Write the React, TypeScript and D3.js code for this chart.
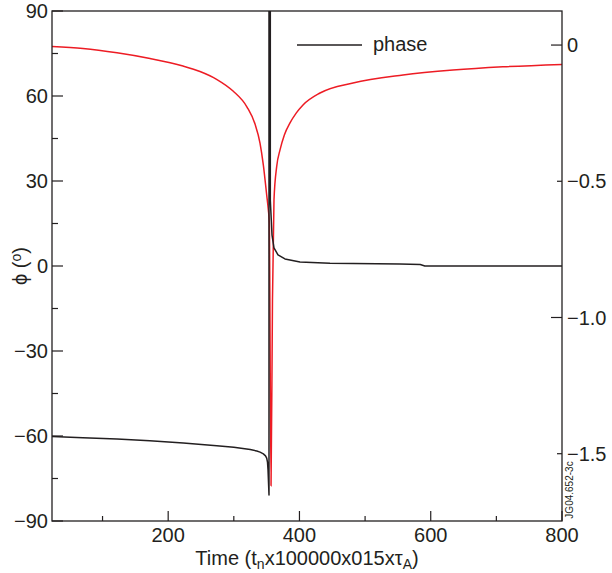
import React from "react";
import * as d3 from "d3";

// ---- data ----
const phaseTime = [23, 70, 122, 172, 223, 274, 300, 325, 335, 340, 345, 348.3, 350.1, 351.3, 352.1, 353.6, 353.6, 355.6, 355.6, 358.2, 361.2, 367.3, 377.9, 400.8, 446.5, 553, 584, 591, 800];
const phaseDeg = [-60.2, -60.6, -61.1, -61.7, -62.5, -63.4, -64.0, -64.8, -65.3, -65.7, -66.3, -67.0, -67.8, -69.2, -71.9, -80.8, 100, 100, 23.3, 10.9, 6.4, 3.9, 2.5, 1.4, 0.95, 0.7, 0.5, 0, 0];

const redTime = [23, 70.2, 122, 172.3, 222.6, 248.5, 274.4, 298.8, 320.1, 332.3, 339.9, 345, 350.1, 352.6, 354.1, 356.7, 358.9, 361.2, 365.3, 370.4, 377, 385.6, 395, 405.4, 431.3, 481.6, 557.8, 633.9, 710, 800];
const redValue = [-0.0055, -0.0128, -0.0286, -0.0495, -0.0771, -0.0972, -0.1266, -0.1688, -0.2275, -0.2899, -0.3596, -0.4404, -0.5505, -0.6055, -0.6532, -1.618, -0.936, -0.569, -0.446, -0.385, -0.33, -0.286, -0.25, -0.22, -0.176, -0.139, -0.11, -0.092, -0.08, -0.071];

const xMajorTicks = [200, 400, 600, 800];
const xMinorTicks = [100, 300, 500, 700];
const yLeftMajor = [-90, -60, -30, 0, 30, 60, 90];
const yLeftMinor = [-75, -45, -15, 15, 45, 75];
const yRightMajor = [0, -1.0];
const yRightMinor = [-0.5, -1.5];
const yRightLabels = [
  { v: 0, t: "0" },
  { v: -0.5, t: "\u22120.5" },
  { v: -1.0, t: "\u22121.0" },
  { v: -1.5, t: "\u22121.5" },
];

const L = 52, R = 562, T = 11, B = 521;
const INK = "#231f20";
const RED = "#ed1c24";
const FONT = "'Liberation Sans', Arial, sans-serif";

export default function App() {
  const x = d3.scaleLinear().domain([23, 800]).range([L, R]);
  const yL = d3.scaleLinear().domain([-90, 90]).range([B, T]);
  const yR = d3.scaleLinear().domain([-1.747, 0.125]).range([B, T]);

  const phaseLine = d3
    .line<number>()
    .x((_, i) => x(phaseTime[i]))
    .y((d) => yL(d))
    .curve(d3.curveLinear);
  const redLine = d3
    .line<number>()
    .x((_, i) => x(redTime[i]))
    .y((d) => yR(d))
    .curve(d3.curveMonotoneX);

  const fmt = (v: number) => (v < 0 ? "\u2212" + Math.abs(v) : String(v));

  return (
    <svg
      width={612}
      height={573}
      style={{ position: "absolute", left: 0, top: 0, background: "#fff" }}
      fontFamily={FONT}
    >
      <defs>
        <clipPath id="plotclip">
          <rect x={L} y={T} width={R - L} height={B - T} />
        </clipPath>
      </defs>
      <rect x={0} y={0} width={612} height={573} fill="#fff" />

      {/* curves */}
      <g clipPath="url(#plotclip)">
        <path d={redLine(redValue) || ""} fill="none" stroke={RED} strokeWidth={1.5} />
        <path d={phaseLine(phaseDeg) || ""} fill="none" stroke={INK} strokeWidth={1.5} strokeLinejoin="round" />
      </g>

      {/* frame */}
      <rect x={L} y={T} width={R - L} height={B - T} fill="none" stroke={INK} strokeWidth={1.3} />

      {/* left ticks */}
      {yLeftMajor.map((v) => (
        <g key={"lm" + v}>
          <line x1={L} x2={L + 11} y1={yL(v)} y2={yL(v)} stroke={INK} strokeWidth={1.2} />
          <text x={L - 4} y={yL(v)} dy="0.36em" textAnchor="end" fontSize={20} fill={INK}>
            {fmt(v)}
          </text>
        </g>
      ))}
      {yLeftMinor.map((v) => (
        <line key={"ln" + v} x1={L} x2={L + 6} y1={yL(v)} y2={yL(v)} stroke={INK} strokeWidth={1.2} />
      ))}

      {/* right ticks */}
      {yRightMajor.map((v) => (
        <line key={"rm" + v} x1={R - 11} x2={R} y1={yR(v)} y2={yR(v)} stroke={INK} strokeWidth={1.2} />
      ))}
      {yRightMinor.map((v) => (
        <line key={"rn" + v} x1={R - 5} x2={R} y1={yR(v)} y2={yR(v)} stroke={INK} strokeWidth={1.2} />
      ))}
      {yRightLabels.map((d) => (
        <text key={"rl" + d.v} x={R + 5} y={yR(d.v)} dy="0.36em" textAnchor="start" fontSize={20} fill={INK}>
          {d.t}
        </text>
      ))}

      {/* bottom ticks */}
      {xMajorTicks.map((v) => (
        <g key={"xm" + v}>
          <line x1={x(v)} x2={x(v)} y1={B} y2={B - 10} stroke={INK} strokeWidth={1.2} />
          <text x={x(v)} y={542} textAnchor="middle" fontSize={20} fill={INK}>
            {v}
          </text>
        </g>
      ))}
      {xMinorTicks.map((v) => (
        <line key={"xn" + v} x1={x(v)} x2={x(v)} y1={B} y2={B - 5} stroke={INK} strokeWidth={1.2} />
      ))}

      {/* axis titles */}
      <text x={(L + R) / 2} y={565} textAnchor="middle" fontSize={20} fill={INK}>
        {"Time (t"}
        <tspan fontSize={14} dy={4}>n</tspan>
        <tspan dy={-4}>{"x100000x015x\u03c4"}</tspan>
        <tspan fontSize={14} dy={4}>A</tspan>
        <tspan dy={-4}>)</tspan>
      </text>
      <text
        transform={`translate(27, ${yL(0)}) rotate(-90)`}
        textAnchor="middle"
        fontSize={20}
        fill={INK}
      >
        {"\u03d5 ("}
        <tspan fontSize={14} dy={-6}>o</tspan>
        <tspan dy={6}>)</tspan>
      </text>

      {/* legend */}
      <line x1={297} x2={362} y1={45} y2={45} stroke={INK} strokeWidth={1.5} />
      <text x={373} y={51} fontSize={20} fill={INK}>
        phase
      </text>

      {/* watermark */}
      <text
        transform="translate(573, 490) rotate(-90)"
        textAnchor="middle"
        fontSize={10}
        fill={INK}
      >
        JG04.652-3c
      </text>
    </svg>
  );
}
